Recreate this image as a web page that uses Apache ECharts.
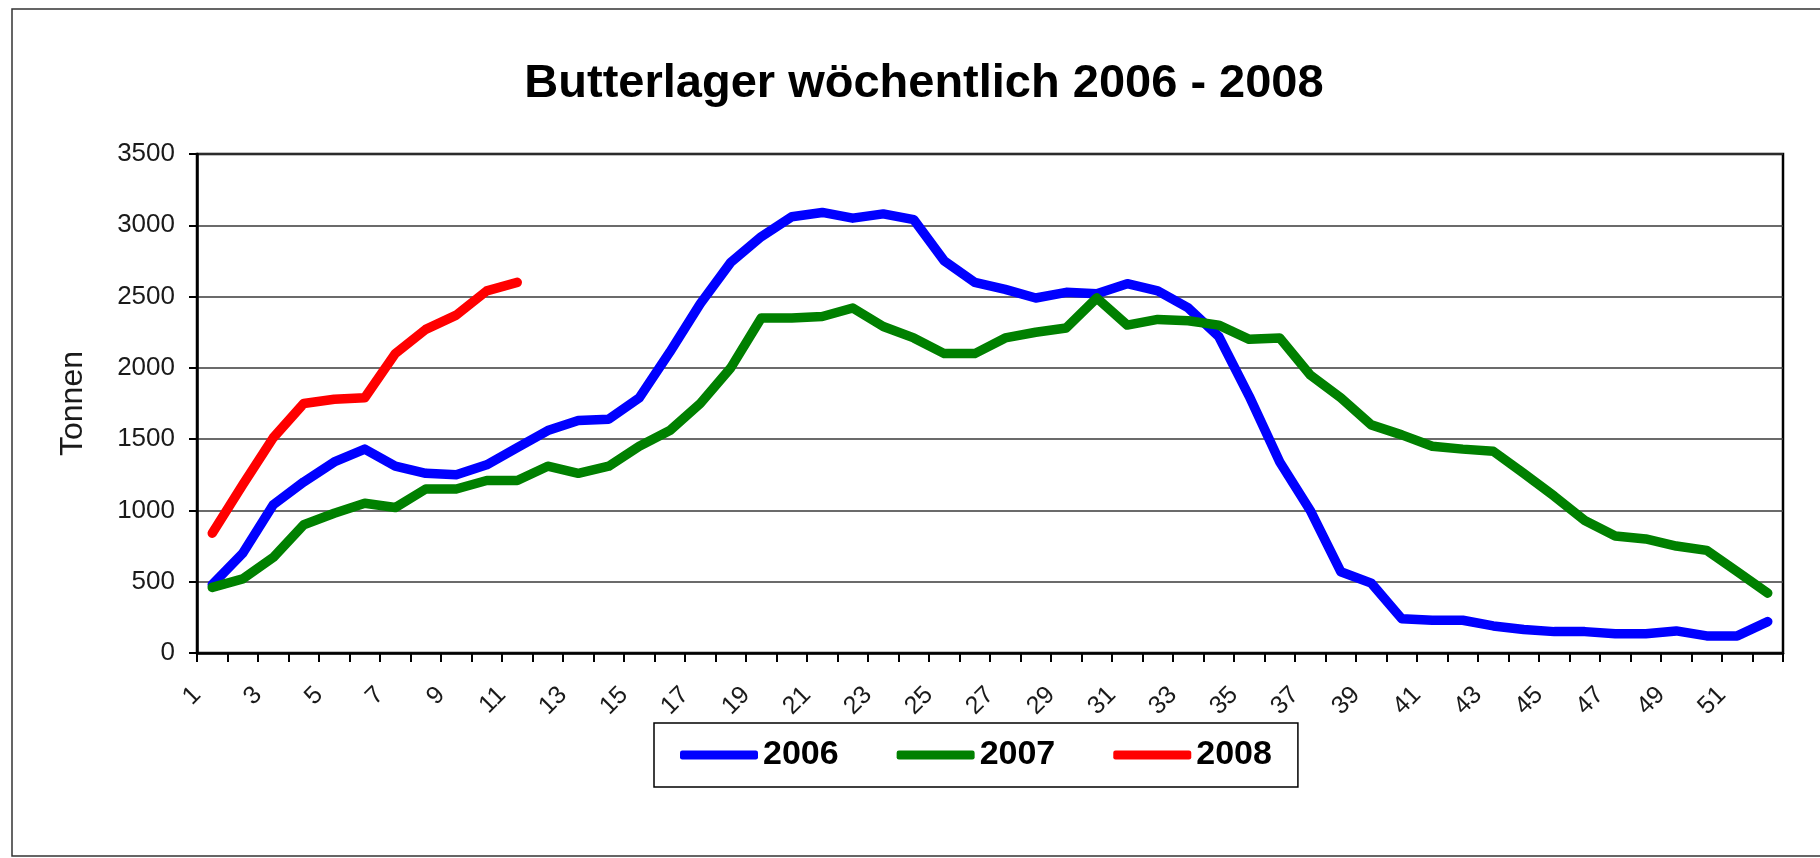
<!DOCTYPE html>
<html>
<head>
<meta charset="utf-8">
<title>Butterlager wöchentlich 2006 - 2008</title>
<script src="https://cdn.jsdelivr.net/npm/echarts@6/dist/echarts.min.js"></script>
<style>
  html, body { margin: 0; padding: 0; background: #fff; }
  #chart { width: 1820px; height: 858px; }
</style>
</head>
<body>
<div id="chart"></div>
<script>
// Kalenderwochen
const weeks = ['1', '2', '3', '4', '5', '6', '7', '8', '9', '10', '11', '12', '13',
  '14', '15', '16', '17', '18', '19', '20', '21', '22', '23', '24', '25', '26',
  '27', '28', '29', '30', '31', '32', '33', '34', '35', '36', '37', '38', '39',
  '40', '41', '42', '43', '44', '45', '46', '47', '48', '49', '50', '51', '52']
// Beschriftung sitzt im Original auf den Teilstrichen (Kategoriegrenzen)
const tickLabels = [...weeks, '53']

// Butterlager in Tonnen
const stock2006 = [480, 700, 1040, 1200, 1340, 1430, 1310, 1260, 1250, 1320, 1440, 1560, 1630,
  1640, 1790, 2110, 2450, 2740, 2920, 3060, 3090, 3050, 3080, 3040, 2750, 2600,
  2550, 2490, 2530, 2520, 2590, 2540, 2420, 2220, 1800, 1340, 1000, 570, 490,
  240, 230, 230, 190, 165, 150, 150, 135, 135, 155, 120, 120, 220]
const stock2007 = [460, 520, 670, 900, 980, 1050, 1020, 1150, 1150, 1210, 1210, 1310, 1260,
  1310, 1450, 1560, 1750, 2000, 2350, 2350, 2360, 2420, 2290, 2210, 2100, 2100,
  2210, 2250, 2280, 2490, 2300, 2340, 2330, 2300, 2200, 2210, 1950, 1790, 1600,
  1530, 1450, 1430, 1415, 1260, 1100, 930, 820, 800, 750, 720, 570, 420]
const stock2008 = [840, 1180, 1510, 1750, 1780, 1790, 2100, 2270, 2370, 2540, 2600]

const FONT = 'Liberation Sans'

const lineSeries = (name, data, color) => ({
  name,
  type: 'line',
  data,
  symbol: 'none',
  xAxisIndex: 0,
  lineStyle: { color, width: 9.5, cap: 'round', join: 'round' },
  itemStyle: { color }
})

const chart = echarts.init(document.getElementById('chart'))
chart.setOption({
  animation: false,
  backgroundColor: '#fff',
  title: {
    text: 'Butterlager wöchentlich 2006 - 2008',
    left: 919,
    top: 56,
    textAlign: 'center',
    textStyle: { fontFamily: FONT, fontSize: 47, fontWeight: 'bold', color: '#000' }
  },
  graphic: [{
    type: 'rect',
    silent: true,
    z: -10,
    shape: { x: 12, y: 9, width: 1900, height: 847 },
    style: { fill: 'none', stroke: '#333', lineWidth: 1.5 }
  }],
  legend: {
    data: ['2006', '2007', '2008'],
    left: 654,
    top: 723,
    icon: 'roundRect',
    itemWidth: 78,
    itemHeight: 9,
    itemGap: 58,
    padding: [15, 26, 15, 26],
    borderColor: '#000',
    borderWidth: 1.5,
    textStyle: { fontFamily: FONT, fontSize: 34, fontWeight: 'bold', color: '#000' }
  },
  grid: {
    left: 197,
    right: 37,
    top: 154,
    bottom: 205,
    show: true,
    borderColor: '#000',
    borderWidth: 2.5
  },
  xAxis: [{
    type: 'category',
    data: weeks,
    boundaryGap: true,
    axisLine: { lineStyle: { color: '#000', width: 2.5 } },
    axisTick: { show: false },
    axisLabel: { show: false }
  }, {
    type: 'category',
    data: tickLabels,
    boundaryGap: false,
    position: 'bottom',
    axisLine: { show: false },
    axisTick: { show: true, interval: 0, length: 9, lineStyle: { color: '#000', width: 2 } },
    axisLabel: {
      interval: (i) => i % 2 === 0 && i < 52,
      rotate: 45,
      margin: 38,
      fontFamily: FONT,
      fontSize: 25,
      color: '#1a1a1a'
    }
  }],
  yAxis: {
    type: 'value',
    min: 0,
    max: 3500,
    interval: 500,
    name: 'Tonnen',
    nameLocation: 'middle',
    nameGap: 108,
    nameTextStyle: { fontFamily: FONT, fontSize: 32, color: '#1a1a1a' },
    axisLine: { show: true, lineStyle: { color: '#000', width: 2.5 } },
    axisTick: { show: true, length: 8, lineStyle: { color: '#000', width: 2 } },
    axisLabel: {
      margin: 22,
      fontFamily: FONT,
      fontSize: 26,
      color: '#1a1a1a',
      formatter: (v) => String(v)
    },
    splitLine: { lineStyle: { color: '#3a3a3a', width: 1.5 } }
  },
  series: [
    lineSeries('2006', stock2006, '#0000ff'),
    lineSeries('2007', stock2007, '#008000'),
    lineSeries('2008', stock2008, '#ff0000')
  ]
})
</script>
</body>
</html>
